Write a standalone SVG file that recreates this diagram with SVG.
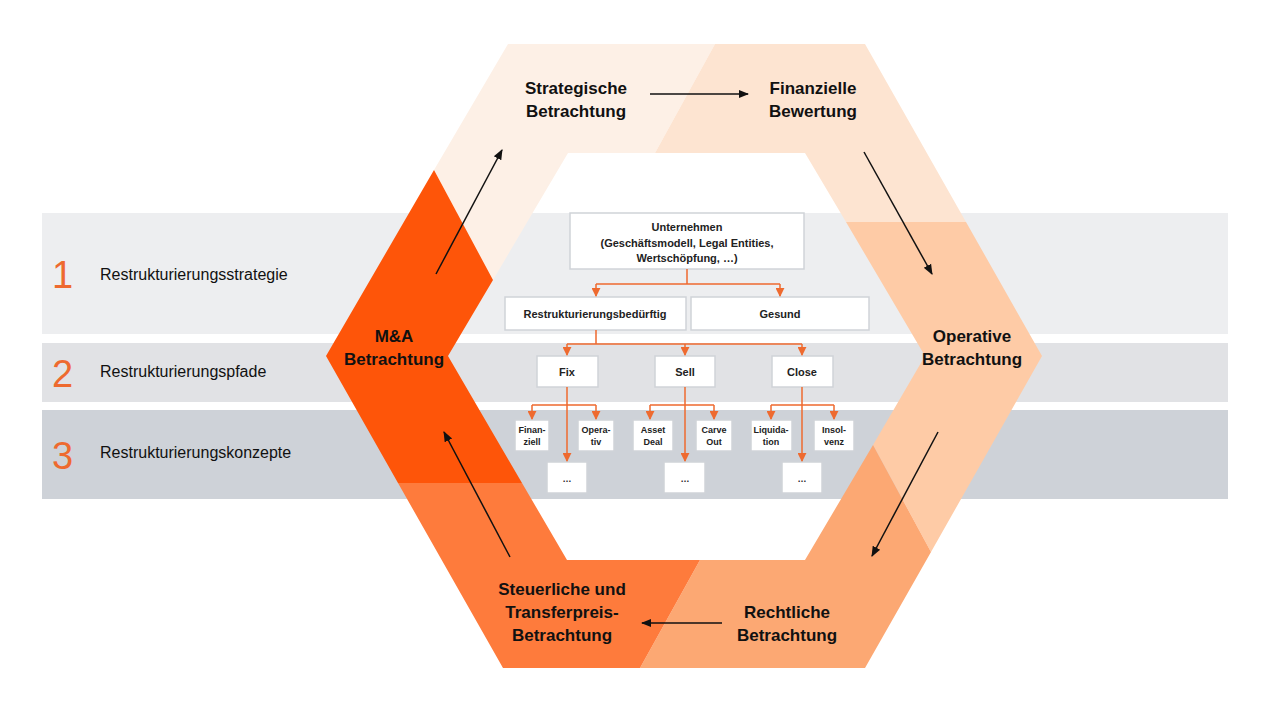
<svg xmlns="http://www.w3.org/2000/svg" width="1280" height="720" viewBox="0 0 1280 720">
<defs>
<marker id="ab" viewBox="0 0 10 10" refX="9" refY="5" markerWidth="7" markerHeight="7" orient="auto-start-reverse"><path d="M0,1 L10,5 L0,9 z" fill="#111"/></marker>
<marker id="ao" viewBox="0 0 10 10" refX="9" refY="5" markerWidth="6" markerHeight="6" orient="auto"><path d="M0,0 L10,5 L0,10 z" fill="#EE6A2F"/></marker>
<style>
text{font-family:"Liberation Sans",Arial,sans-serif;}
.num{font-size:38px;fill:#EE6A2F;}
.lab{font-size:16px;fill:#111;}
.hx{font-size:17px;font-weight:bold;fill:#111;text-anchor:middle;}
.bx{fill:#fff;stroke:#D0D3D8;stroke-width:1.5;}
.bt{font-size:11px;font-weight:bold;fill:#222;text-anchor:middle;}
.st{font-size:9px;font-weight:bold;fill:#222;text-anchor:middle;}
.oc{stroke:#EE6A2F;stroke-width:1.5;fill:none;}
.bc{stroke:#111;stroke-width:1.5;fill:none;marker-end:url(#ab);}
</style>
</defs>
<rect width="1280" height="720" fill="#fff"/>
<g id="bands">
<rect x="42" y="213" width="1186" height="121" fill="#EDEEF0"/>
<rect x="42" y="343" width="1186" height="59" fill="#E1E2E5"/>
<rect x="42" y="410" width="1186" height="89" fill="#CED2D8"/>
<text class="num" x="52" y="288">1</text><text class="lab" x="100" y="280">Restrukturierungsstrategie</text>
<text class="num" x="52" y="387">2</text><text class="lab" x="100" y="377">Restrukturierungspfade</text>
<text class="num" x="52" y="469">3</text><text class="lab" x="100" y="458">Restrukturierungskonzepte</text>
</g>
<g id="hexagon">
<polygon points="434,170 508,44 715,44 655,153 568,153 493,280" fill="#FDF0E6"/>
<polygon points="715,44 865,44 966,222 846,222 805,153 655,153" fill="#FDE4D1"/>
<polygon points="846,222 966,222 1042,356 931,552 873,445 925,356" fill="#FECBA6"/>
<polygon points="931,552 865,668 640,668 700,560 805,560 873,445" fill="#FCA873"/>
<polygon points="640,668 503,668 398,483 522,483 567,560 700,560" fill="#FE7B3C"/>
<polygon points="398,483 326,356 434,170 493,280 448,356 522,483" fill="#FE5509"/>
</g>
<g id="n-strat"><text class="hx" x="576" y="94">Strategische</text><text class="hx" x="576" y="117">Betrachtung</text></g>
<g id="n-fin"><text class="hx" x="813" y="94">Finanzielle</text><text class="hx" x="813" y="117">Bewertung</text></g>
<g id="n-op"><text class="hx" x="972" y="342">Operative</text><text class="hx" x="972" y="365">Betrachtung</text></g>
<g id="n-recht"><text class="hx" x="787" y="618">Rechtliche</text><text class="hx" x="787" y="641">Betrachtung</text></g>
<g id="n-steuer"><text class="hx" x="562" y="595">Steuerliche und</text><text class="hx" x="562" y="618">Transferpreis-</text><text class="hx" x="562" y="641">Betrachtung</text></g>
<g id="n-ma"><text class="hx" x="394" y="342">M&amp;A</text><text class="hx" x="394" y="365">Betrachtung</text></g>
<g id="tree-nodes">
<g id="t-unt"><rect class="bx" x="570" y="213" width="234" height="56"/><text class="bt" x="687" y="231">Unternehmen</text><text class="bt" x="687" y="247">(Geschäftsmodell, Legal Entities,</text><text class="bt" x="687" y="262">Wertschöpfung, …)</text></g>
<g id="t-rb"><rect class="bx" x="505" y="297" width="181" height="33"/><text class="bt" x="595" y="318">Restrukturierungsbedürftig</text></g>
<g id="t-ges"><rect class="bx" x="691" y="297" width="178" height="33"/><text class="bt" x="780" y="318">Gesund</text></g>
<g id="t-fix"><rect class="bx" x="537" y="356" width="61" height="31"/><text class="bt" x="567" y="376">Fix</text></g>
<g id="t-sell"><rect class="bx" x="655" y="356" width="60" height="31"/><text class="bt" x="685" y="376">Sell</text></g>
<g id="t-close"><rect class="bx" x="772" y="356" width="61" height="31"/><text class="bt" x="802" y="376">Close</text></g>
<g id="t-fin"><rect class="bx" x="515" y="420" width="34" height="31"/><text class="st" x="532" y="433">Finan-</text><text class="st" x="532" y="445">ziell</text></g>
<g id="t-opv"><rect class="bx" x="578" y="420" width="36" height="31"/><text class="st" x="596" y="433">Opera-</text><text class="st" x="596" y="445">tiv</text></g>
<g id="t-ad"><rect class="bx" x="633" y="420" width="40" height="31"/><text class="st" x="653" y="433">Asset</text><text class="st" x="653" y="445">Deal</text></g>
<g id="t-co"><rect class="bx" x="696" y="420" width="36" height="31"/><text class="st" x="714" y="433">Carve</text><text class="st" x="714" y="445">Out</text></g>
<g id="t-liq"><rect class="bx" x="751" y="420" width="41" height="31"/><text class="st" x="771" y="433">Liquida-</text><text class="st" x="771" y="445">tion</text></g>
<g id="t-ins"><rect class="bx" x="814" y="420" width="40" height="31"/><text class="st" x="834" y="433">Insol-</text><text class="st" x="834" y="445">venz</text></g>
<g id="t-d1"><rect class="bx" x="547" y="462" width="40" height="31"/><text class="st" x="567" y="482">…</text></g>
<g id="t-d2"><rect class="bx" x="664" y="462" width="41" height="31"/><text class="st" x="685" y="482">…</text></g>
<g id="t-d3"><rect class="bx" x="782" y="462" width="40" height="31"/><text class="st" x="802" y="482">…</text></g>
</g>
<g id="connectors">
<path class="oc" d="M687,269 V284 M596,284 H780"/>
<path class="oc" marker-end="url(#ao)" d="M596,284 V296"/>
<path class="oc" marker-end="url(#ao)" d="M780,284 V296"/>
<path class="oc" d="M596,330 V344 M567,344 H802"/>
<path class="oc" marker-end="url(#ao)" d="M567,344 V355"/>
<path class="oc" marker-end="url(#ao)" d="M685,344 V355"/>
<path class="oc" marker-end="url(#ao)" d="M802,344 V355"/>
<path class="oc" d="M532,405 H596 M650,405 H714 M771,405 H834"/>
<path class="oc" marker-end="url(#ao)" d="M532,405 V419"/>
<path class="oc" marker-end="url(#ao)" d="M596,405 V419"/>
<path class="oc" marker-end="url(#ao)" d="M650,405 V419"/>
<path class="oc" marker-end="url(#ao)" d="M714,405 V419"/>
<path class="oc" marker-end="url(#ao)" d="M771,405 V419"/>
<path class="oc" marker-end="url(#ao)" d="M834,405 V419"/>
<path class="oc" marker-end="url(#ao)" d="M567,387 V461"/>
<path class="oc" marker-end="url(#ao)" d="M685,387 V461"/>
<path class="oc" marker-end="url(#ao)" d="M802,387 V461"/>
<path class="bc" d="M650,94 L748,94"/>
<path class="bc" d="M864,152 L932,274"/>
<path class="bc" d="M938,432 L872,556"/>
<path class="bc" d="M722,623 L642,623"/>
<path class="bc" d="M510,557 L444,432"/>
<path class="bc" d="M436,274 L502,150"/>
</g>
</svg>
